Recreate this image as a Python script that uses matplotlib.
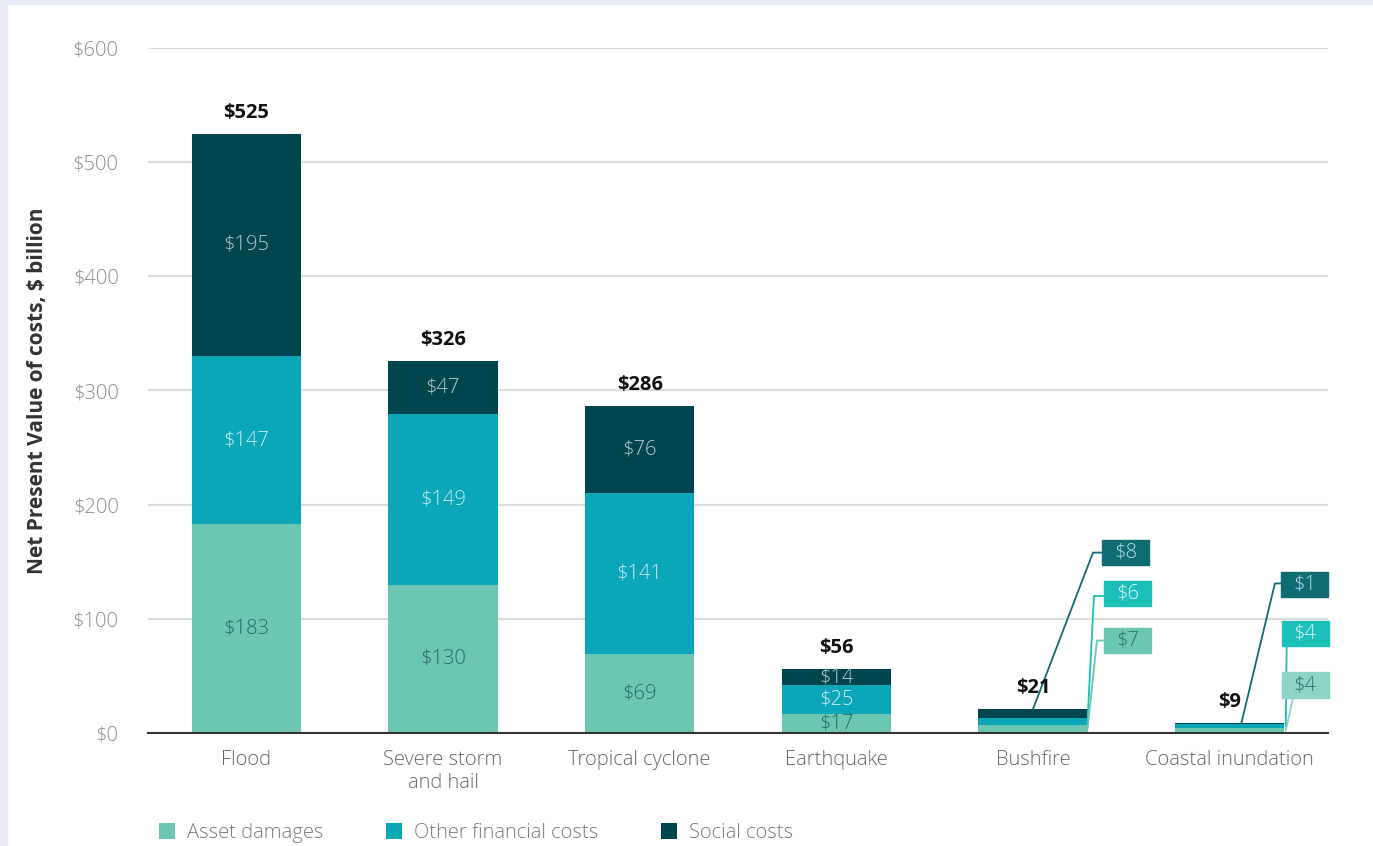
import matplotlib.pyplot as plt
from matplotlib.patches import Rectangle

plt.rcParams['font.family'] = ['Open Sans', 'DejaVu Sans']

hazards = ["Flood", "Severe storm\nand hail", "Tropical cyclone", "Earthquake", "Bushfire", "Coastal inundation"]
asset = [183, 130, 69, 17, 7, 4]
other = [147, 149, 141, 25, 6, 4]
social = [195, 47, 76, 14, 8, 1]
totals = [525, 326, 286, 56, 21, 9]
yticks = [0, 100, 200, 300, 400, 500, 600]

c_asset = "#6cc7b2"
c_other = "#0ba6b8"
c_social = "#00454e"

fig = plt.figure(figsize=(13.73, 8.46), dpi=100)
fig.patch.set_facecolor("white")
# thin lavender frame at top and left
fig.patches.append(Rectangle((0, 1 - 4 / 846), 1, 4 / 846, transform=fig.transFigure,
                             color="#e8eaf4", zorder=0))
fig.patches.append(Rectangle((0, 0), 7 / 1373, 1, transform=fig.transFigure,
                             color="#e8eaf4", zorder=0))

ax = fig.add_axes([148 / 1373, 1 - 733 / 846, 1180 / 1373, 685 / 846])
x = list(range(len(hazards)))
w = 0.555
bot2 = [a + o for a, o in zip(asset, other)]
ax.bar(x, asset, w, color=c_asset, zorder=3, label="Asset damages")
ax.bar(x, other, w, bottom=asset, color=c_other, zorder=3, label="Other financial costs")
ax.bar(x, social, w, bottom=bot2, color=c_social, zorder=3, label="Social costs")

fs = 14.5
ax.set_xlim(-0.5, 5.5)
ax.set_ylim(0, 600)
ax.set_yticks(yticks)
ax.set_yticklabels(["$%d" % v for v in yticks], fontweight="light")
ax.set_xticks(x)
ax.set_xticklabels(hazards, fontweight="light")
ax.tick_params(axis="y", length=0, pad=21, labelsize=14.5, labelcolor="#8c8c8c")
ax.tick_params(axis="x", length=0, pad=12.5, labelsize=fs, labelcolor="#666666")
ax.yaxis.grid(True, color="#dcdcdc", lw=1.5, zorder=0)
for s in ["top", "right", "left"]:
    ax.spines[s].set_visible(False)
ax.spines["bottom"].set_color("#333333")
ax.spines["bottom"].set_linewidth(1.5)
ax.spines["bottom"].set_zorder(5)

ax.set_ylabel("Net Present Value of costs, $ billion", fontsize=15, fontweight="bold", color="#333333")
ax.yaxis.set_label_coords(-0.085, 0.5)

# totals above each bar
for i, t in enumerate(totals):
    ax.annotate("$%d" % t, (i, t), xytext=(0, 8), textcoords="offset points",
                ha="center", va="bottom", fontsize=fs, fontweight="bold", color="#111111", zorder=6)

# segment values inside the four big bars
for i in range(4):
    ax.text(i, asset[i] / 2, "$%d" % asset[i], ha="center", va="center", fontsize=fs,
            fontweight="light", color="#24676a", zorder=4)
    ax.text(i, asset[i] + other[i] / 2, "$%d" % other[i], ha="center", va="center", fontsize=fs,
            fontweight="light", color="#cfeff2", zorder=4)
    ax.text(i, bot2[i] + social[i] / 2, "$%d" % social[i], ha="center", va="center", fontsize=fs,
            fontweight="light", color="#b9cbcd", zorder=4)

# callout boxes for the two small bars
box_w = 0.24
box_h = 22
callouts = [
    # (value, box_x, box_y, box colour, text colour, line points)
    (social[4], 4.35, 158, "#0f6b74", "#b5dde0", [(4.0, 21), (4.305, 158), (4.35, 158)]),
    (other[4], 4.36, 122, "#1cbfba", "#def7f5", [(4.277, 10), (4.31, 120), (4.36, 120)]),
    (asset[4], 4.36, 81, "#6cc7b2", "#2d6d6c", [(4.277, 3), (4.325, 81), (4.36, 81)]),
    (social[5], 5.26, 130, "#0f6b74", "#b5dde0", [(5.06, 9), (5.23, 131), (5.26, 131)]),
    (other[5], 5.264, 87, "#1cbfba", "#def7f5", [(5.285, 6), (5.29, 76)]),
    (asset[5], 5.264, 42, "#8dd3c6", "#2d6d6c", [(5.285, 2), (5.335, 40)]),
]
for val, bx, by, bc, tc, pts in callouts:
    xs = [p[0] for p in pts]
    ys = [p[1] for p in pts]
    ax.plot(xs, ys, color=bc, lw=1.3, zorder=4, clip_on=False)
    ax.add_patch(Rectangle((bx, by - box_h / 2), box_w, box_h, color=bc, zorder=5, clip_on=False))
    ax.text(bx + box_w / 2, by, "$%d" % val, ha="center", va="center", fontsize=fs,
            fontweight="light", color=tc, zorder=6, clip_on=False)

fig.legend(loc="center left", bbox_to_anchor=(159 / 1373, 1 - 833 / 846), ncol=3, frameon=False,
           prop={"size": fs, "weight": "light"}, labelcolor="#7a7a7a", handlelength=0.8,
           handleheight=0.8, handletextpad=0.6, columnspacing=3.1, borderpad=0, borderaxespad=0)

fig.savefig("out.png", dpi=100)
